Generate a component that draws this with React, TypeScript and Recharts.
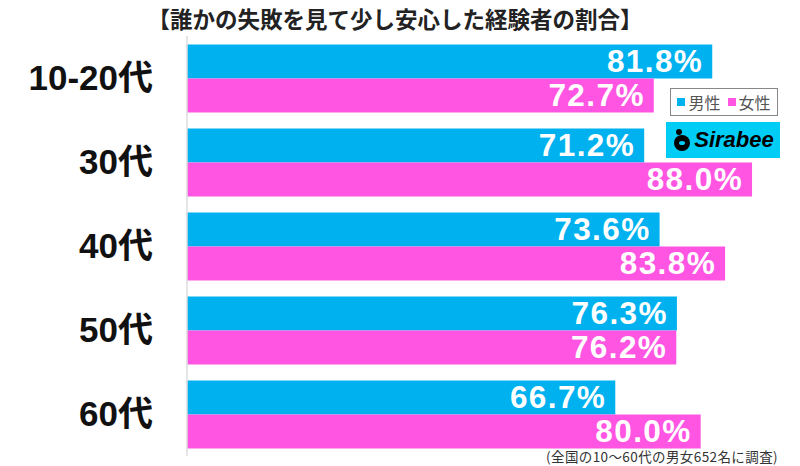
import React from "react";
import { BarChart, Bar, XAxis, YAxis } from "recharts";

const ages = ["10-20代", "30代", "40代", "50代", "60代"];
const male = [81.8, 71.2, 73.6, 76.3, 66.7];
const female = [72.7, 88.0, 83.8, 76.2, 80.0];

const data = ages.map((age, i) => ({ age, male: male[i], female: female[i] }));

const BLUE = "#00B1EF";
const PINK = "#FF55E2";
const JP = "'Noto Sans CJK JP', sans-serif";
const NUM = "'Liberation Sans', 'Noto Sans CJK JP', sans-serif";

function ValueLabel(props: any) {
  const { x, y, width, height, value } = props;
  return (
    <text
      x={x + width - 9}
      y={y + height / 2 + 11}
      textAnchor="end"
      fill="#fff"
      fontFamily={NUM}
      fontWeight="bold"
      fontSize={31.5}
      letterSpacing={1.4}
    >
      {Number(value).toFixed(1)}%
    </text>
  );
}

function AgeTick(props: any) {
  const { y, payload } = props;
  return (
    <text x={153} y={y + 12} textAnchor="end" fill="#111" fontFamily={NUM} fontWeight="bold" fontSize={35}>
      {payload.value}
    </text>
  );
}

function App() {
  return (
    <div style={{ position: "absolute", left: 0, top: 0, width: 800, height: 466, background: "#fff" }}>
      <div
        style={{
          position: "absolute",
          left: 0,
          width: 790,
          top: 4,
          textAlign: "center",
          fontFamily: JP,
          fontWeight: "bold",
          fontSize: 22.5,
          color: "#222",
          lineHeight: "28px",
        }}
      >
        【誰かの失敗を見て少し安心した経験者の割合】
      </div>
      <BarChart
        width={800}
        height={466}
        data={data}
        layout="vertical"
        margin={{ top: 36, right: 3, bottom: 10, left: 0 }}
        barCategoryGap="10%"
        barGap={0}
      >
        <XAxis type="number" domain={[0, 95]} hide />
        <YAxis
          type="category"
          dataKey="age"
          width={187}
          axisLine={{ stroke: "#dddddd", strokeWidth: 1.5 }}
          tickLine={false}
          tick={<AgeTick />}
        />
        <Bar dataKey="male" fill={BLUE} isAnimationActive={false} label={<ValueLabel />} />
        <Bar dataKey="female" fill={PINK} isAnimationActive={false} label={<ValueLabel />} />
      </BarChart>
      <div
        style={{
          position: "absolute",
          left: 670,
          top: 88,
          width: 106,
          height: 26,
          border: "1.5px solid #888",
          background: "#fff",
          display: "flex",
          alignItems: "center",
          justifyContent: "center",
          fontFamily: JP,
          fontSize: 16,
          color: "#555",
          gap: 3,
        }}
      >
        <span style={{ width: 8, height: 8, background: BLUE, display: "inline-block" }} />
        <span>男性</span>
        <span style={{ width: 8, height: 8, background: PINK, display: "inline-block", marginLeft: 4 }} />
        <span>女性</span>
      </div>
      <div
        style={{
          position: "absolute",
          left: 666,
          top: 122,
          width: 114,
          height: 36,
          background: "#00CDF6",
          display: "flex",
          alignItems: "center",
          justifyContent: "center",
          gap: 2,
        }}
      >
        <svg width={20} height={24} viewBox="0 0 20 24">
          <circle cx={10} cy={15} r={8} fill="#000" />
          <circle cx={7} cy={4} r={3} fill="#000" />
          <ellipse cx={10} cy={15} rx={3} ry={2} fill="#00CDF6" />
        </svg>
        <span
          style={{
            fontFamily: "'Liberation Sans', sans-serif",
            fontWeight: "bold",
            fontStyle: "italic",
            fontSize: 22,
            color: "#000",
          }}
        >
          Sirabee
        </span>
      </div>
      <div
        style={{
          position: "absolute",
          right: 22,
          top: 450,
          fontFamily: JP,
          fontSize: 13.5,
          color: "#333",
          lineHeight: "13.5px",
          letterSpacing: 0.4,
        }}
      >
        (全国の10〜60代の男女652名に調査)
      </div>
    </div>
  );
}

export default App;
